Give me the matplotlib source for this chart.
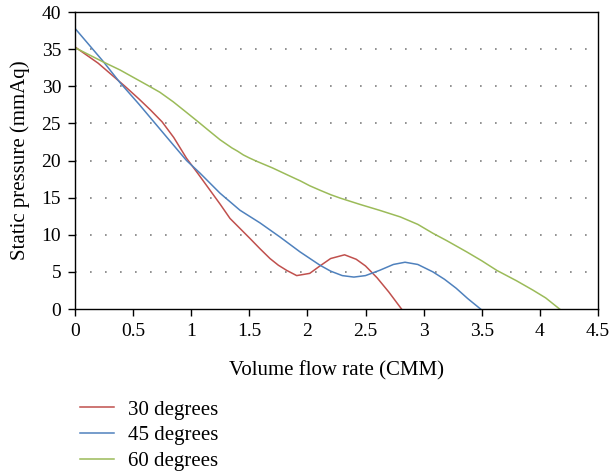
import matplotlib.pyplot as plt
import numpy as np

plt.rcParams['font.family'] = ['Liberation Serif', 'DejaVu Serif']

# values
x30 = [0, 0.2, 0.43, 0.55, 0.65, 0.75, 0.85, 0.96, 1.06, 1.162, 1.25, 1.334, 1.42,
       1.506, 1.59, 1.678, 1.75, 1.822, 1.908, 2.02, 2.108, 2.2, 2.32, 2.42, 2.5,
       2.6, 2.7, 2.81]
y30 = [35.3, 33.1, 30.0, 28.3, 26.8, 25.2, 23.1, 20.3, 18.2, 16.0, 14.1, 12.2, 10.85,
       9.5, 8.15, 6.8, 5.9, 5.2, 4.5, 4.8, 5.8, 6.8, 7.3, 6.7, 5.8,
       4.2, 2.3, 0]

x45 = [0, 0.24, 0.387, 0.55, 0.69, 0.83, 0.96, 1.076, 1.248, 1.42, 1.592, 1.764,
       1.936, 2.108, 2.2, 2.3, 2.4, 2.5, 2.62, 2.74, 2.84, 2.95, 3.08, 3.18, 3.28,
       3.38, 3.49]
y45 = [37.8, 33.4, 30.5, 27.6, 25.0, 22.4, 20.0, 18.3, 15.6, 13.3, 11.6, 9.7,
       7.7, 5.9, 5.1, 4.5, 4.3, 4.5, 5.2, 6.0, 6.3, 6.0, 5.0, 4.0, 2.8,
       1.4, 0]

x60 = [0, 0.24, 0.387, 0.617, 0.73, 0.846, 0.95, 1.061, 1.15, 1.248, 1.35, 1.40,
       1.449, 1.5, 1.563, 1.7, 1.85, 1.94, 2.02, 2.108, 2.2, 2.28, 2.45, 2.62, 2.8,
       2.95, 3.08, 3.2, 3.37, 3.5, 3.63, 3.8, 3.94, 4.05, 4.17]
y60 = [35.2, 33.3, 32.2, 30.2, 29.2, 27.9, 26.6, 25.2, 24.05, 22.8, 21.7, 21.25,
       20.75, 20.35, 19.9, 19.0, 17.9, 17.25, 16.6, 16.0, 15.4, 14.95, 14.1, 13.3, 12.4,
       11.4, 10.2, 9.2, 7.7, 6.5, 5.2, 3.8, 2.55, 1.5, 0]

labels = ["30 degrees", "45 degrees", "60 degrees"]
colors = ["#C0504D", "#4F81BD", "#9BBB59"]

fig = plt.figure(figsize=(6.12, 4.73), dpi=100)
ax = fig.add_axes([0.1225, 0.3467, 0.8545, 0.6279])

ax.plot(x30, y30, color=colors[0], lw=1.1, label=labels[0])
ax.plot(x45, y45, color=colors[1], lw=1.1, label=labels[1])
ax.plot(x60, y60, color=colors[2], lw=1.1, label=labels[2])

ax.set_xlim(0, 4.5)
ax.set_ylim(0, 40)
ax.set_xticks(np.arange(0, 4.51, 0.5))
ax.set_xticklabels(["0", "0.5", "1", "1.5", "2", "2.5", "3", "3.5", "4", "4.5"])
ax.set_yticks(np.arange(0, 41, 5))
for yv in range(5, 40, 5):
    ax.axhline(yv, color="#7f7f7f", lw=1.2, linestyle=(0, (1, 8)), zorder=0)
ax.tick_params(direction="out", length=5, width=1, labelsize=14, pad=5)
for s in ax.spines.values():
    s.set_linewidth(1)

ax.set_xlabel("Volume flow rate (CMM)", fontsize=15, labelpad=15)
ax.set_ylabel("Static pressure (mmAq)", fontsize=15, labelpad=8)

fig.legend(loc="lower left", bbox_to_anchor=(0.1, -0.036), frameon=False,
           fontsize=15, handlelength=1.65, handletextpad=0.65, labelspacing=0.3)

fig.savefig("out.png", dpi=100)
